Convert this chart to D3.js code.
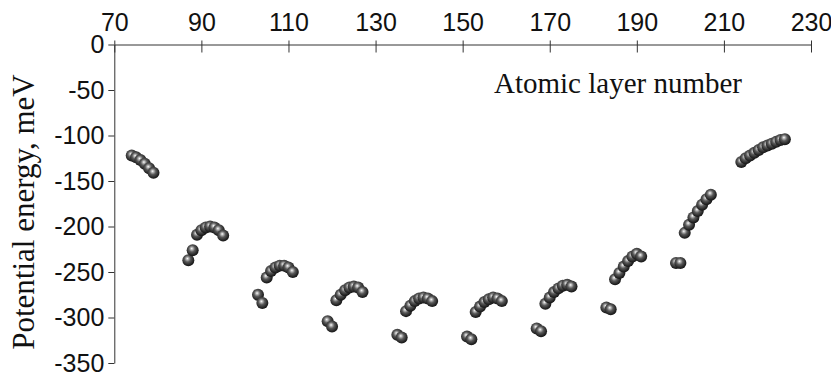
<!DOCTYPE html>
<html>
<head>
<meta charset="utf-8">
<script src="https://cdn.jsdelivr.net/npm/d3@7"></script>
<style>
  html, body { margin: 0; padding: 0; background: #fff; }
  svg { display: block; }
  .tick text { font-family: "Liberation Sans", Arial, sans-serif; font-size: 25px; fill: #111; }
  .axis-title { font-family: "Liberation Serif", "Times New Roman", serif; fill: #111; }
</style>
</head>
<body>
<svg id="chart" width="831" height="376"></svg>
<script>
// Atomic layer numbers and the potential energy (meV) computed for each layer
const layerNumbers = [
  74, 75, 76, 77, 78, 79,
  87, 88, 89, 90, 91, 92, 93, 94, 95,
  103, 104, 105, 106, 107, 108, 109, 110, 111,
  119, 120, 121, 122, 123, 124, 125, 126, 127,
  135, 136, 137, 138, 139, 140, 141, 142, 143,
  151, 152, 153, 154, 155, 156, 157, 158, 159,
  167, 168, 169, 170, 171, 172, 173, 174, 175,
  183, 184, 185, 186, 187, 188, 189, 190, 191,
  199, 200, 201, 202, 203, 204, 205, 206, 207,
  214, 215, 216, 217, 218, 219, 220, 221, 222, 223, 224
];
const potentialEnergy = [
  -122, -124, -127, -131, -136, -141,
  -237, -226, -209, -204, -201, -200, -201, -204, -210,
  -275, -284, -256, -249, -245, -243, -243, -245, -250,
  -304, -310, -281, -275, -270, -267, -266, -267, -272,
  -319, -322, -293, -287, -282, -279, -278, -279, -282,
  -321, -324, -294, -288, -283, -280, -278, -279, -282,
  -312, -315, -285, -278, -272, -268, -265, -264, -266,
  -289, -291, -258, -251, -244, -238, -233, -230, -233,
  -240, -240, -207, -198, -190, -183, -176, -170, -165,
  -129, -125, -122, -119, -116, -113, -111, -109, -107, -105, -104
];
const xTickValues = [70, 90, 110, 130, 150, 170, 190, 210, 230];
const yTickValues = [0, -50, -100, -150, -200, -250, -300, -350];

const svg = d3.select("#chart");

const x = d3.scaleLinear().domain([70, 230]).range([114.3, 811]);
const y = d3.scaleLinear().domain([0, -350]).range([44.5, 363]);

// Shaded sphere used for every data point
const defs = svg.append("defs");
const grad = defs.append("radialGradient")
  .attr("id", "ball")
  .attr("cx", "45%").attr("cy", "42%").attr("r", "58%")
  .attr("fx", "42%").attr("fy", "36%");
grad.append("stop").attr("offset", "0%").attr("stop-color", "#ffffff");
grad.append("stop").attr("offset", "16%").attr("stop-color", "#bdbdbd");
grad.append("stop").attr("offset", "45%").attr("stop-color", "#5a5a5a");
grad.append("stop").attr("offset", "80%").attr("stop-color", "#2a2a2a");
grad.append("stop").attr("offset", "100%").attr("stop-color", "#141414");

const plain = d => String(d);

// Top axis: ticks point down into the plot and poke slightly above the line
const xAxis = svg.append("g")
  .attr("transform", `translate(0,${y(0)})`)
  .call(d3.axisTop(x).tickValues(xTickValues).tickFormat(plain)
    .tickSize(-8).tickPadding(14).tickSizeOuter(0));
xAxis.selectAll(".tick line").attr("y1", -4).attr("stroke", "#333");
xAxis.selectAll(".tick text").attr("dy", "0");
xAxis.select(".domain").attr("stroke", "#333");

// Left axis
const yAxis = svg.append("g")
  .attr("transform", `translate(${x(70)},0)`)
  .call(d3.axisLeft(y).tickValues(yTickValues).tickFormat(plain)
    .tickSize(6).tickPadding(4).tickSizeOuter(0));
yAxis.select(".domain").attr("stroke", "#333");
yAxis.selectAll(".tick line").attr("stroke", "#333");

// Data points
svg.append("g")
  .selectAll("circle")
  .data(layerNumbers.map((n, i) => ({ n, e: potentialEnergy[i] })))
  .join("circle")
  .attr("cx", d => x(d.n))
  .attr("cy", d => y(d.e))
  .attr("r", 6)
  .attr("fill", "url(#ball)");

// Axis titles
svg.append("text")
  .attr("class", "axis-title")
  .attr("x", 494).attr("y", 93)
  .style("font-size", "29px")
  .text("Atomic layer number");

svg.append("text")
  .attr("class", "axis-title")
  .attr("transform", `translate(34,212) rotate(-90)`)
  .attr("text-anchor", "middle")
  .style("font-size", "31px")
  .text("Potential energy, meV");
</script>
</body>
</html>
